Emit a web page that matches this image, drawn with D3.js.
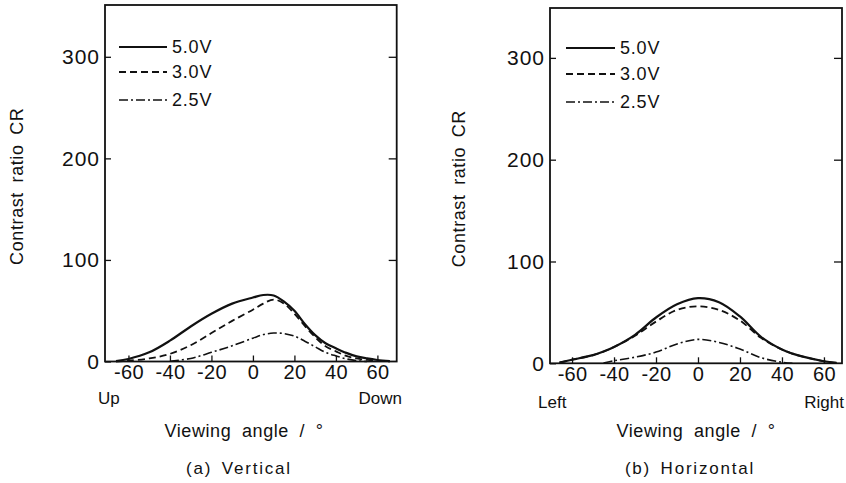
<!DOCTYPE html>
<html><head><meta charset="utf-8">
<script src="https://cdn.jsdelivr.net/npm/d3@7"></script>
<style>body{margin:0;background:#fff}svg{display:block}text{font-family:"Liberation Sans",Arial,sans-serif;fill:#111}</style>
</head><body><svg id="c" width="846" height="483"></svg>
<script>
// ---- data ----
const seriesNames = ["5.0V", "3.0V", "2.5V"];
const xTicks = [-60, -40, -20, 0, 20, 40, 60];
const yTicks = [0, 100, 200, 300];

// (a) Vertical
const anglesV = [-66,-60,-50,-40,-30,-20,-10,0,5,10,15,20,25,30,35,40,45,50,55,60,66];
const v50 = [0.5,2.5,9,20.5,34.5,47,57,63,65.5,65,59,50,37,26,18,13,8.5,5,3,1.5,0.3];
const v30 = [0,0.8,3,7.5,16,28,40,51,57,61,57,47,35,24,15,10,5.5,3,1.5,0.7,0.2];
const v25 = [null,null,null,0.3,3,9,15.5,23,26.5,28,27.5,25,20,14.5,9,5.5,2.6,0.8,0,null,null];

// (b) Horizontal
const anglesH = [-66,-60,-50,-45,-40,-30,-20,-10,0,10,20,30,40,45,50,60,66];
const h50 = [0.7,3.5,8,11.5,16,28,45,58,64,60,46,26,13.5,9.5,6.5,2,0.4];
const h30 = [0.7,3.5,8,11.5,16,27,41,52.5,56,52.5,42,25,13.5,9.5,6.5,2,0.4];
const h25 = [null,null,null,0.3,2.5,6,11,19,23.5,20.5,14,5.5,1,0,null,null,null];

const styles = [
  {dash: null, w: 2.2},
  {dash: "7,4", w: 1.8},
  {dash: "9,3,2,3", w: 1.6}
];

const panels = [
  {angles: anglesV, series: [v50, v30, v25], xd: [-71.3, 69.3], xr: [105, 396.7], yd: [0, 351], yr: [361.5, 5],
   ends: ["Up", "Down"], endX: [98, 402], endY: 404, caption: "(a) Vertical", capX: 239, titleX: 17, xlabX: 244,
   legX: [119, 167], legY: [47, 72, 100]},
  {angles: anglesH, series: [h50, h30, h25], xd: [-70.5, 68.6], xr: [550, 842], yd: [0, 349], yr: [363.3, 8],
   ends: ["Left", "Right"], endX: [538, 844], endY: 408, caption: "(b) Horizontal", capX: 690, titleX: 459, xlabX: 696,
   legX: [566, 615], legY: [48, 74, 102]}
];

const svg = d3.select("#c");

panels.forEach(p => {
  const x = d3.scaleLinear().domain(p.xd).range(p.xr);
  const y = d3.scaleLinear().domain(p.yd).range(p.yr);
  const g = svg.append("g");

  // frame
  g.append("rect").attr("x", p.xr[0]).attr("y", p.yr[1]).attr("width", p.xr[1]-p.xr[0]).attr("height", p.yr[0]-p.yr[1])
    .attr("fill", "none").attr("stroke", "#111").attr("stroke-width", 1.8);

  // bottom axis
  const xa = g.append("g").attr("transform", `translate(0,${p.yr[0]})`)
    .call(d3.axisBottom(x).tickValues(xTicks).tickSizeInner(-6).tickSizeOuter(0).tickPadding(10).tickFormat(d => String(d)));
  xa.select(".domain").remove();
  xa.selectAll("line").attr("stroke", "#111").attr("stroke-width", 1.3);
  xa.selectAll("text").attr("font-size", 20).attr("dy", "0.71em").attr("y", 3).style("letter-spacing", "0.3px");

  // left axis
  const ya = g.append("g").attr("transform", `translate(${p.xr[0]},0)`)
    .call(d3.axisLeft(y).tickValues(yTicks).tickSizeInner(-6).tickSizeOuter(0).tickPadding(5).tickFormat(d => String(d)));
  ya.select(".domain").remove();
  ya.selectAll("line").attr("stroke", "#111").attr("stroke-width", 1.3);
  ya.selectAll("text").attr("font-size", 21).attr("x", -5).style("letter-spacing", "1px");

  // right axis ticks (inward)
  const ra = g.append("g").attr("transform", `translate(${p.xr[1]},0)`)
    .call(d3.axisLeft(y).tickValues(yTicks.slice(1)).tickSizeInner(8).tickSizeOuter(0).tickFormat(""));
  ra.select(".domain").remove();
  ra.selectAll("line").attr("stroke", "#111").attr("stroke-width", 1.3);

  // curves
  p.series.forEach((vals, i) => {
    const pts = p.angles.map((a, k) => [a, vals[k]]);
    const line = d3.line().defined(d => d[1] !== null).x(d => x(d[0])).y(d => y(Math.max(0, d[1]))).curve(d3.curveCatmullRom.alpha(0.5));
    g.append("path").attr("d", line(pts)).attr("fill", "none").attr("stroke", "#111")
      .attr("stroke-width", styles[i].w).attr("stroke-dasharray", styles[i].dash);
  });

  // legend
  seriesNames.forEach((n, i) => {
    g.append("line").attr("x1", p.legX[0]).attr("x2", p.legX[1]).attr("y1", p.legY[i]).attr("y2", p.legY[i])
      .attr("stroke", "#111").attr("stroke-width", styles[i].w).attr("stroke-dasharray", styles[i].dash);
    g.append("text").attr("x", p.legX[1] + 5).attr("y", p.legY[i]).attr("dy", "0.36em").attr("font-size", 18)
      .style("letter-spacing", "0.8px").text(n);
  });

  // y title
  const cy = (p.yr[0] + p.yr[1]) / 2 + 3;
  g.append("text").attr("transform", `translate(${p.titleX + 6},${cy}) rotate(-90)`).attr("text-anchor", "middle")
    .attr("font-size", 18).style("letter-spacing", "0.6px").style("word-spacing", "4px").text("Contrast ratio CR");

  // end labels
  g.append("text").attr("x", p.endX[0]).attr("y", p.endY).attr("font-size", 17).text(p.ends[0]);
  g.append("text").attr("x", p.endX[1]).attr("y", p.endY).attr("text-anchor", "end").attr("font-size", 17).text(p.ends[1]);

  // x title & caption
  g.append("text").attr("x", p.xlabX).attr("y", 437).attr("text-anchor", "middle").attr("font-size", 18)
    .style("letter-spacing", "0.6px").style("word-spacing", "5px").text("Viewing angle / °");
  g.append("text").attr("x", p.capX).attr("y", 474).attr("text-anchor", "middle").attr("font-size", 17)
    .style("letter-spacing", "1.8px").style("word-spacing", "3px").text(p.caption);
});
</script></body></html>
